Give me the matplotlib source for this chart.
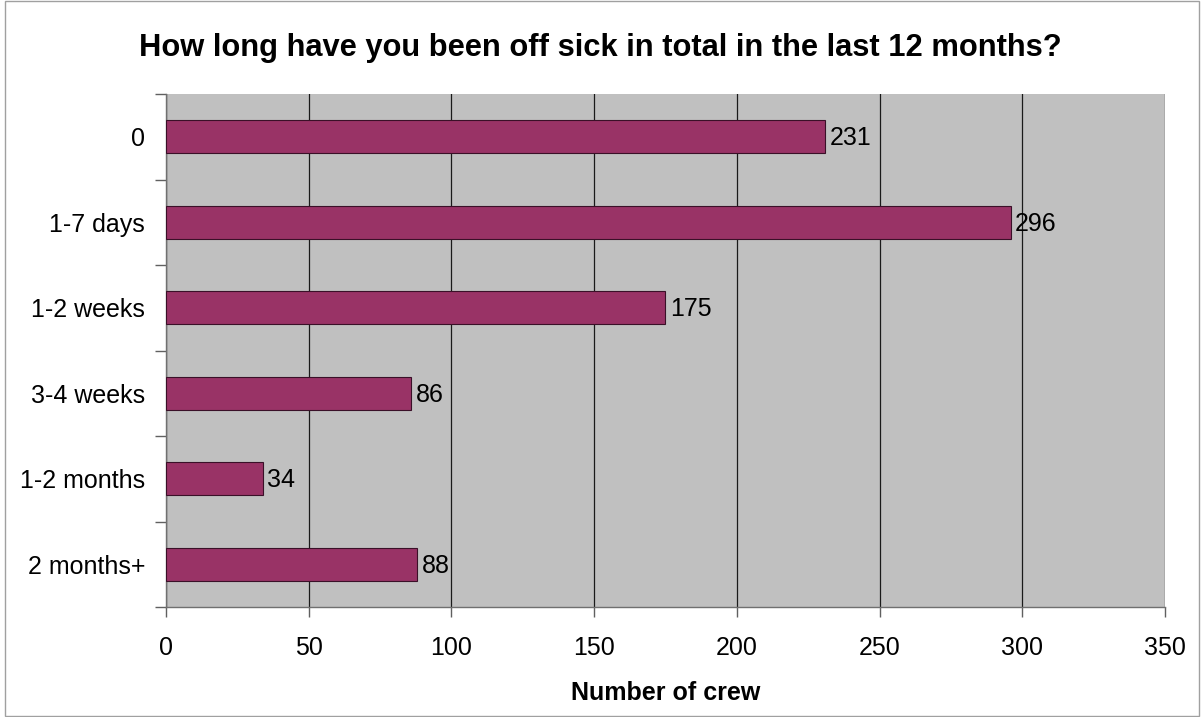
import matplotlib
matplotlib.use("Agg")
import matplotlib.pyplot as plt
from matplotlib.ticker import FixedLocator
from matplotlib.patches import Rectangle

categories = ["0", "1-7 days", "1-2 weeks", "3-4 weeks", "1-2 months", "2 months+"]
counts = [231, 296, 175, 86, 34, 88]
x_ticks = [0, 50, 100, 150, 200, 250, 300, 350]

plt.rcParams["font.family"] = ["Liberation Sans", "DejaVu Sans"]

fig = plt.figure(figsize=(12.01, 7.17), dpi=100)
fig.patch.set_facecolor("white")
fig.add_artist(Rectangle((0.0042, 0.002), 0.9942, 0.996, transform=fig.transFigure,
                         fill=False, edgecolor="#a0a0a0", linewidth=1.0))

ax = fig.add_axes([0.1382, 0.1534, 0.8318, 0.7155])
ax.set_facecolor("#c0c0c0")

n = len(categories)
ypos = list(range(n))
ax.barh(ypos, counts, height=0.39, color="#993366", edgecolor="#3a1028",
        linewidth=0.8, zorder=3)

for y, v in zip(ypos, counts):
    ax.text(v + 1.5, y + 0.02, str(v), va="center", ha="left", fontsize=18, zorder=4)

ax.set_xlim(0, 350)
ax.set_ylim(n - 0.5, -0.5)
ax.set_xticks(x_ticks)
ax.set_xticklabels([str(t) for t in x_ticks], fontsize=18)
ax.set_yticks(ypos)
ax.set_yticklabels(categories, fontsize=18)
ax.yaxis.set_minor_locator(FixedLocator([i - 0.5 for i in range(n + 1)]))

ax.tick_params(axis="y", which="major", length=0, pad=15)
ax.tick_params(axis="y", which="minor", length=8, width=1, color="#606060", direction="out")
ax.tick_params(axis="x", which="major", length=7, width=1, color="#606060",
               direction="out", pad=14)

ax.grid(axis="x", color="#1a1a1a", linewidth=0.9, zorder=1)
ax.set_axisbelow(True)

for side in ["left", "bottom"]:
    ax.spines[side].set_color("#707070")
    ax.spines[side].set_linewidth(1.0)
for side in ["top", "right"]:
    ax.spines[side].set_visible(False)

ax.set_xlabel("Number of crew", fontsize=18, fontweight="bold", labelpad=15)
fig.text(0.5, 0.933, "How long have you been off sick in total in the last 12 months?",
         ha="center", va="center", fontsize=22.2, fontweight="bold")

fig.savefig("out.png", dpi=100, facecolor="white")
